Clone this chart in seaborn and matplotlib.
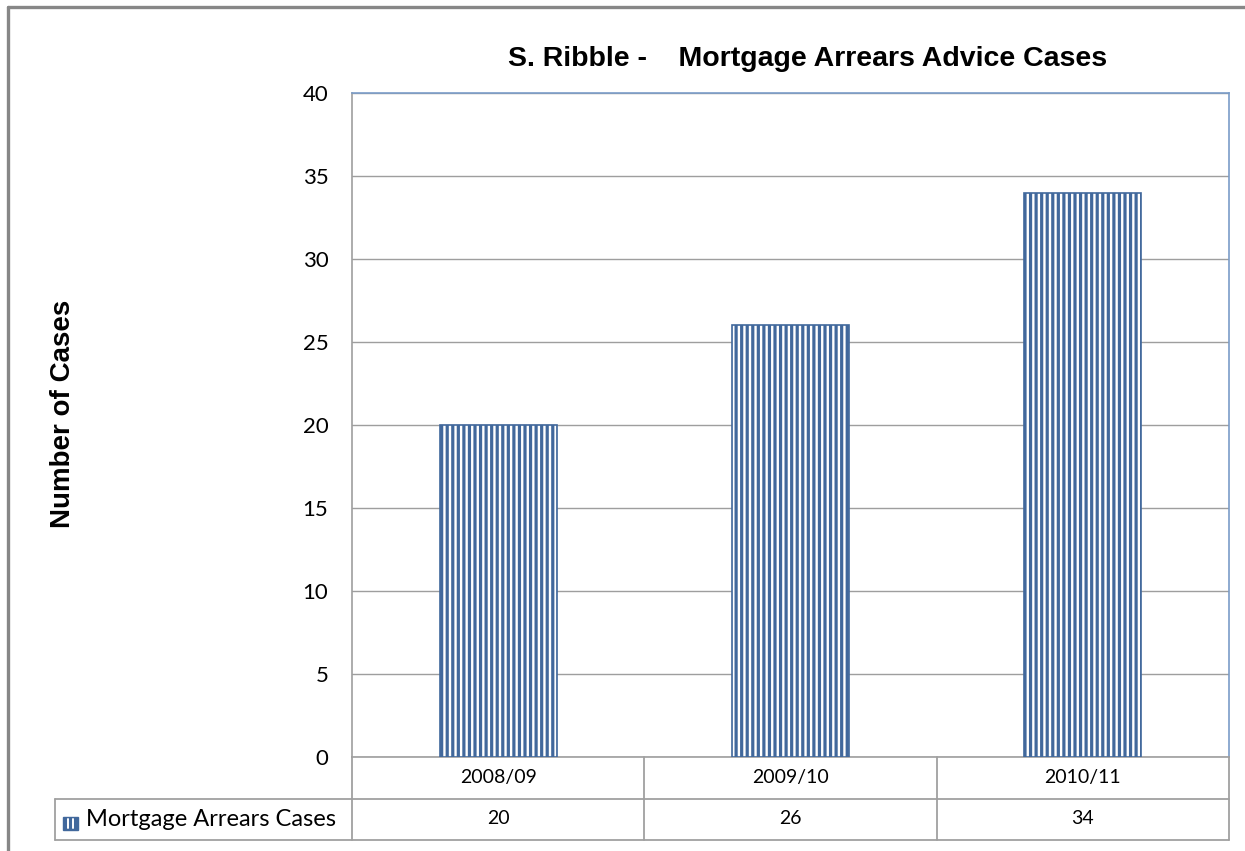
import matplotlib
matplotlib.use("Agg")
import matplotlib.pyplot as plt
import seaborn as sns
import pandas as pd
from matplotlib.lines import Line2D
from matplotlib.patches import Rectangle
from matplotlib.transforms import blended_transform_factory

# Data
years = ["2008/09", "2009/10", "2010/11"]
cases = [20, 26, 34]
series_name = "Mortgage Arrears Cases"
y_ticks = [0, 5, 10, 15, 20, 25, 30, 35, 40]

sns.set_style("white")
plt.rcParams["font.family"] = ["Lato", "DejaVu Sans"]
plt.rcParams["hatch.linewidth"] = 2.3
plt.rcParams["text.color"] = "black"
plt.rcParams["ytick.color"] = "black"
plt.rcParams["ytick.labelcolor"] = "black"

W, H = 1245, 851
fig = plt.figure(figsize=(W / 100, H / 100), dpi=100)
fig.patch.set_facecolor("white")

# plot area in pixel coordinates
px_l, px_r, px_t, px_b = 352, 1229, 93, 757
ax = fig.add_axes([px_l / W, 1 - px_b / H, (px_r - px_l) / W, (px_b - px_t) / H])

df = pd.DataFrame({"year": years, "cases": cases})
bar_blue = "#41689C"
sns.barplot(data=df, x="year", y="cases", ax=ax, color="white", width=0.4,
            edgecolor=bar_blue, linewidth=1.2, saturation=1, zorder=3)
for p in ax.patches:
    p.set_hatch("|||")
    p.set_edgecolor(bar_blue)
    p.set_facecolor("white")

ax.set_xlim(-0.5, len(years) - 0.5)
ax.set_ylim(0, 40)
ax.set_yticks(y_ticks)
ax.set_yticklabels([str(t) for t in y_ticks], fontsize=16, color="black")
ax.tick_params(axis="y", length=0, pad=17)
ax.set_xticks([])
ax.set_xlabel("")
ax.set_ylabel("")
ax.yaxis.grid(True, color="#9E9E9E", linewidth=1.0, zorder=0)
ax.set_axisbelow(True)

for side in ["top", "right"]:
    ax.spines[side].set_color("#7A9CC8")
    ax.spines[side].set_linewidth(1.2)
for side in ["left", "bottom"]:
    ax.spines[side].set_color("#9E9E9E")
    ax.spines[side].set_linewidth(1.2)

# data table beneath the plot
grid_c = "#A0A0A0"
row1_mid = 1 - 778 / H
row2_top = 1 - 799 / H
row2_mid = 1 - 819 / H
row_bot = 1 - 840 / H
trans = blended_transform_factory(ax.transData, fig.transFigure)
for i, (yr, val) in enumerate(zip(years, cases)):
    fig.text(i, row1_mid, yr, transform=trans, ha="center", va="center", fontsize=14)
    fig.text(i, row2_mid, str(val), transform=trans, ha="center", va="center", fontsize=14)
for b in range(len(years) + 1):
    x = b - 0.5
    fig.add_artist(Line2D([x, x], [row_bot, 1 - px_b / H], transform=trans,
                          color=grid_c, linewidth=1.3))
fig.add_artist(Line2D([55 / W, px_r / W], [row2_top, row2_top], color=grid_c, linewidth=1.3))
fig.add_artist(Line2D([55 / W, px_r / W], [row_bot, row_bot], color=grid_c, linewidth=1.3))
fig.add_artist(Line2D([55 / W, 55 / W], [row_bot, row2_top], color=grid_c, linewidth=1.3))

# legend key in the table's label cell
fig.add_artist(Rectangle((63 / W, 1 - 830 / H), 15 / W, 13 / H, facecolor=bar_blue,
                         edgecolor=bar_blue, linewidth=1.0))
for kx in (68, 73):
    fig.add_artist(Line2D([kx / W, kx / W], [1 - 828 / H, 1 - 819 / H],
                          color="white", linewidth=1.4))
fig.text(86 / W, row2_mid, series_name, ha="left", va="center", fontsize=17)

# titles
fig.text(808 / W, 1 - 59 / H, "S. Ribble -    Mortgage Arrears Advice Cases",
         ha="center", va="center", fontsize=20.5, fontweight="bold",
         family=["Liberation Sans", "DejaVu Sans"])
fig.text(63 / W, 1 - 414 / H, "Number of Cases", ha="center", va="center",
         rotation=90, fontsize=20, fontweight="bold",
         family=["Liberation Sans", "DejaVu Sans"])

# chart frame
fig.add_artist(Line2D([8 / W, 8 / W], [0, 1 - 7 / H], color="#878787", linewidth=2.4))
fig.add_artist(Line2D([8 / W, 1], [1 - 7 / H, 1 - 7 / H], color="#878787", linewidth=2.4))

fig.savefig("out.png", dpi=100)
